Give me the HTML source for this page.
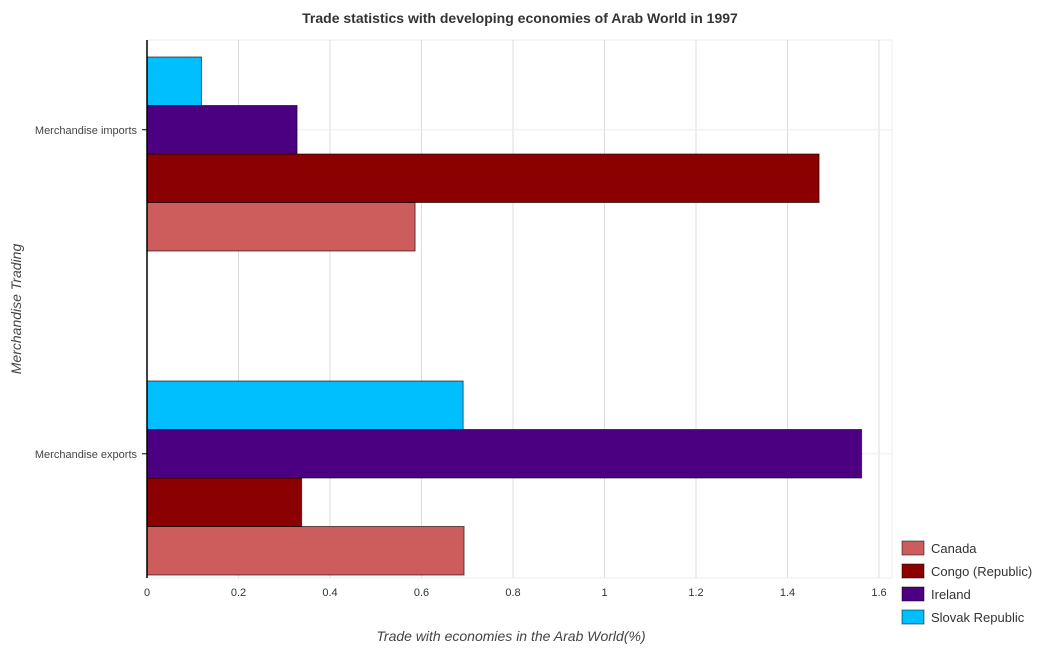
<!DOCTYPE html>
<html><head><meta charset="utf-8"><style>
body{margin:0;background:#fff;font-family:"Liberation Sans",sans-serif}
</style></head><body>
<svg id="c" width="1054" height="650" xmlns="http://www.w3.org/2000/svg">
<text x="520" y="23" text-anchor="middle" font-size="14" font-weight="bold" fill="#333">Trade statistics with developing economies of Arab World in 1997</text>
<g id="grid"></g><g id="bars"></g><g id="axes"></g>
<text x="511" y="641" text-anchor="middle" font-size="14" font-style="italic" fill="#444">Trade with economies in the Arab World(%)</text>
<text transform="translate(21,309) rotate(-90)" text-anchor="middle" font-size="14" font-style="italic" fill="#444">Merchandise Trading</text>
<g id="legend"></g>
</svg>
<script>
const categories=["Merchandise exports","Merchandise imports"];
const seriesNames=["Canada","Congo (Republic)","Ireland","Slovak Republic"];
const canada=[0.693,0.586];
const congo=[0.338,1.469];
const ireland=[1.562,0.328];
const slovak=[0.691,0.119];
const xTicks=[0,0.2,0.4,0.6,0.8,1,1.2,1.4,1.6];
const xTickLabels=["0","0.2","0.4","0.6","0.8","1","1.2","1.4","1.6"];
const colors=["#cd5c5c","#8b0000","#4b0082","#00bfff"];
const NS="http://www.w3.org/2000/svg";
const L=147,R=892,T=40,B=578;
const x=v=>L+v*457.5;
const groupTop=i=>[381,57][i];
const bh=48.5;
function mk(t,a,p){const e=document.createElementNS(NS,t);for(const k in a)e.setAttribute(k,a[k]);p.appendChild(e);return e;}
const grid=document.getElementById('grid'),bars=document.getElementById('bars'),axes=document.getElementById('axes'),leg=document.getElementById('legend');
mk('rect',{x:L,y:T,width:R-L,height:B-T,fill:'none',stroke:'#eee'},grid);
xTicks.forEach((t,i)=>{
 const gl=mk('line',{x1:x(t),x2:x(t),y1:T,y2:B,stroke:'#ddd'},grid);
 
 
 const tk=mk('text',{x:x(t),y:B+18,'text-anchor':'middle','font-size':11,fill:'#333'},axes);
 tk.textContent=xTickLabels[i];
 
 
});
const series=[canada,congo,ireland,slovak];
categories.forEach((c,ci)=>{
 const top=groupTop(ci);
 const ly=top+1.5*bh;
 mk('line',{x1:L,x2:R,y1:ly,y2:ly,stroke:'#eee'},grid);
 series.forEach((s,si)=>{
  const y=top+bh*(3-si);
  const r=mk('rect',{x:L,y:y,width:x(s[ci])-L,height:bh,fill:colors[si],stroke:'rgba(0,0,0,0.6)','stroke-width':1},bars);
  
  
 });
 mk('line',{x1:L-5,x2:L,y1:ly,y2:ly,stroke:'#000'},axes);
 const lb=mk('text',{x:L-10,y:ly+4,'text-anchor':'end','font-size':11,fill:'#444'},axes);
 lb.textContent=c;
 
 
});
mk('line',{x1:L,x2:L,y1:T,y2:B,stroke:'#000','stroke-width':1.5},axes);
seriesNames.forEach((n,i)=>{
 const y=541+i*23;
 const sw=mk('rect',{x:902,y:y,width:22,height:14,fill:colors[i],stroke:'rgba(0,0,0,0.5)'},leg);
 
 
 const t=mk('text',{x:931,y:y+12,'font-size':13,fill:'#333'},leg);
 t.textContent=n;
 
 
});
</script>
</body></html>
